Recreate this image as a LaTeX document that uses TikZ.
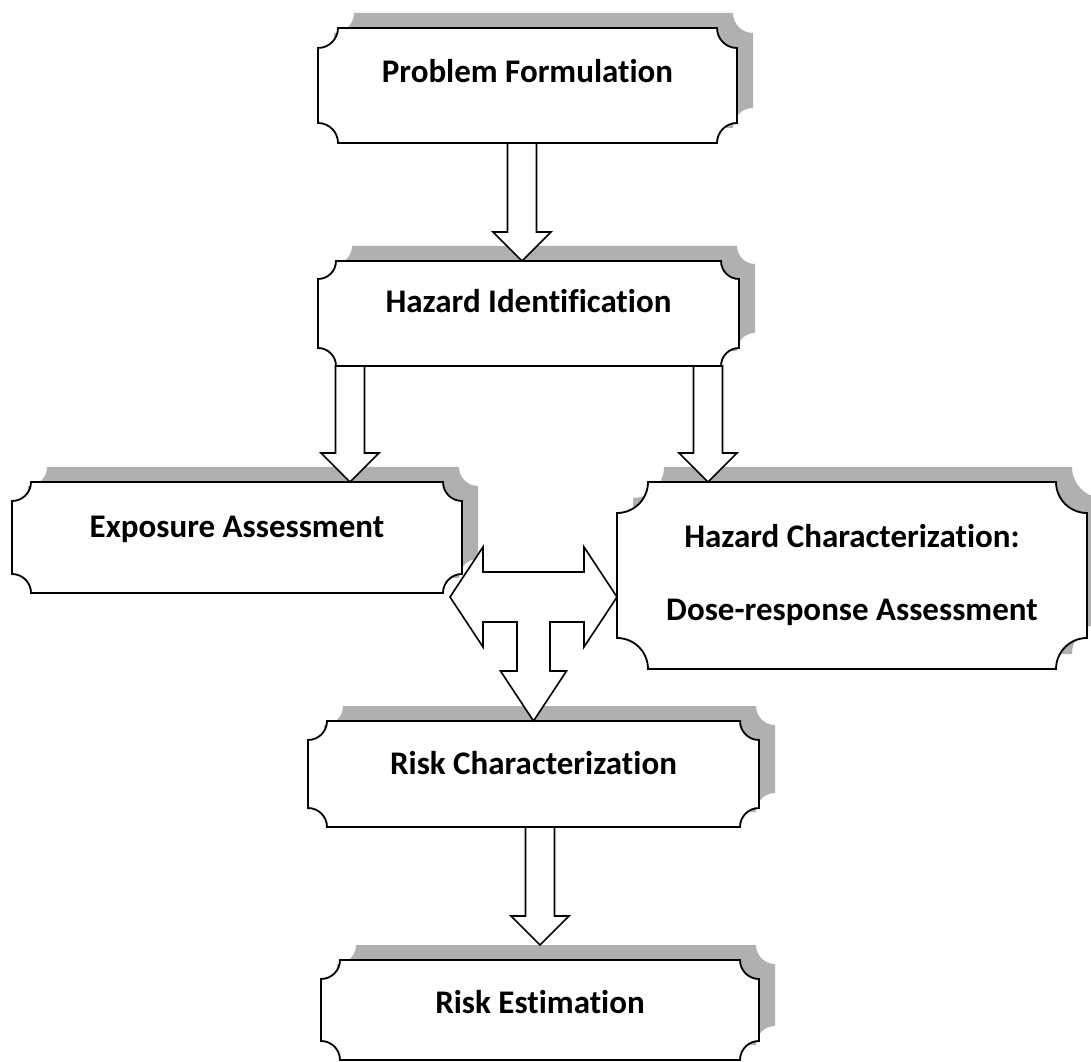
\documentclass[tikz,border=0pt]{standalone}
\usepackage{fontspec}
\setmainfont{Carlito}[Ligatures=NoCommon]
\usetikzlibrary{calc}
\definecolor{shadowgray}{RGB}{176,176,176}
\pgfdeclarelayer{background}
\pgfsetlayers{background,main}
\tikzset{
    stage/.style={outer sep=0pt, inner sep=0pt, align=center,
        font=\fontsize{33}{40}\selectfont\bfseries},
    lift/.style={text height=22pt, text depth=#1},
    plaqueline/.style={draw=black, line width=1.8pt, fill=white},
    plaqueshadow/.style={fill=shadowgray},
    blockarrow/.style={draw=black, line width=1.6pt, fill=white, line join=miter}
}
% box outline with hollow corners: node, corner radius, offset, style
\newcommand{\plaque}[4]{%
  \path[#4] let \p1=($(#1.south west)+(#3)$), \p2=($(#1.north east)+(#3)$) in
    (\x1+#2,\y2) -- (\x2-#2,\y2) arc[start angle=180, end angle=270, radius=#2]
    -- (\x2,\y1+#2) arc[start angle=90, end angle=180, radius=#2]
    -- (\x1+#2,\y1) arc[start angle=0, end angle=90, radius=#2]
    -- (\x1,\y2-#2) arc[start angle=270, end angle=360, radius=#2] -- cycle;
}
% hollow arrow pointing down: from node, to node, x, gap above target
\newcommand{\blockdown}[4]{%
  \draw[blockarrow] let \p1=(#1.south), \p2=(#2.north) in
    (#3pt-14.5pt,\y1) -- (#3pt+14.5pt,\y1) -- (#3pt+14.5pt,\y2+#4+29pt)
    -- (#3pt+29pt,\y2+#4+29pt) -- (#3pt,\y2+#4) -- (#3pt-29pt,\y2+#4+29pt)
    -- (#3pt-14.5pt,\y2+#4+29pt) -- cycle;
}

\begin{document}
\begin{tikzpicture}[x=1pt, y=1pt]
\useasboundingbox (0,0) rectangle (1091,1061);
\node[stage, lift=28pt, minimum width=419pt, minimum height=115pt] (prob) at (527.5,975.5) {Problem Formulation};
\node[stage, lift=23pt, minimum width=421pt, minimum height=105pt] (hazid) at (528.5,747.5) {Hazard Identification};
\node[stage, lift=22pt, minimum width=450pt, minimum height=111pt] (expo) at (237,523.5) {Exposure Assessment};
\node[stage, font=\fontsize{33}{73}\selectfont\bfseries, minimum width=470pt, minimum height=187pt] (hazchar) at (852,485.5) {Hazard Characterization:\\Dose-response Assessment};
\node[stage, lift=21pt, minimum width=451pt, minimum height=106pt] (riskchar) at (533.5,287) {Risk Characterization};
\node[stage, lift=15pt, minimum width=438pt, minimum height=100pt] (riskest) at (540,51) {Risk Estimation};

\begin{pgfonlayer}{background}
\foreach \bx/\rad in {prob/20pt, hazid/18pt, expo/19pt, hazchar/31pt, riskchar/19pt, riskest/19pt}
  {\plaque{\bx}{\rad}{16pt,15pt}{plaqueshadow}}
\foreach \bx/\rad in {prob/20pt, hazid/18pt, expo/19pt, hazchar/31pt, riskchar/19pt, riskest/19pt}
  {\plaque{\bx}{\rad}{0pt,0pt}{plaqueline}}
\end{pgfonlayer}

\blockdown{prob}{hazid}{522}{0pt}
\blockdown{hazid}{expo}{350}{0pt}
\blockdown{hazid}{hazchar}{708}{0pt}
\blockdown{riskchar}{riskest}{540}{15pt}

% two-way arrow between the assessments, feeding down into risk characterization
\draw[blockarrow] let \p1=(riskchar.north), \p2=(hazchar.west) in
  (2*\x1-\x2,\y1+124) -- (2*\x1-\x2+33,\y1+174) -- (2*\x1-\x2+33,\y1+149)
  -- (\x2-33,\y1+149) -- (\x2-33,\y1+174) -- (\x2,\y1+124)
  -- (\x2-33,\y1+74) -- (\x2-33,\y1+99) -- (\x1+16.5,\y1+99)
  -- (\x1+16.5,\y1+50) -- (\x1+33,\y1+50) -- (\x1,\y1)
  -- (\x1-33,\y1+50) -- (\x1-16.5,\y1+50) -- (\x1-16.5,\y1+99)
  -- (2*\x1-\x2+33,\y1+99) -- (2*\x1-\x2+33,\y1+74) -- cycle;
\end{tikzpicture}
\end{document}
